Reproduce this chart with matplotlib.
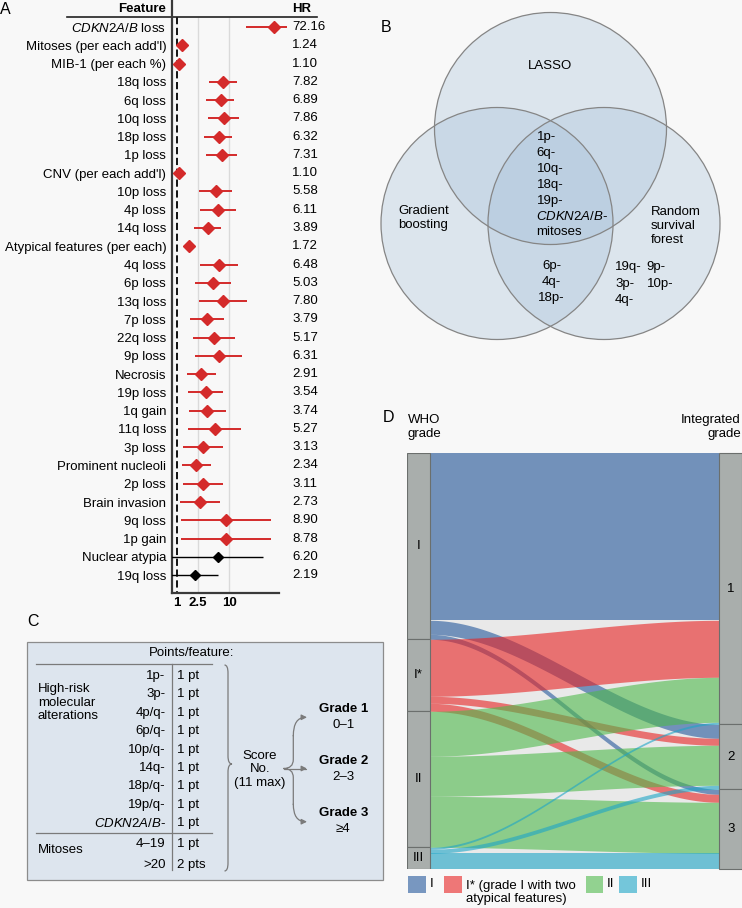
import numpy as np
import matplotlib
matplotlib.use('Agg')
import matplotlib.pyplot as plt
from matplotlib.patches import Circle, Rectangle, FancyArrowPatch, PathPatch
from matplotlib.path import Path
from matplotlib.ticker import NullLocator

plt.rcParams['font.family'] = ['Liberation Sans', 'DejaVu Sans']
plt.rcParams['font.size'] = 9.5
plt.rcParams['mathtext.fontset'] = 'custom'
plt.rcParams['mathtext.rm'] = 'Liberation Sans'
plt.rcParams['mathtext.it'] = 'Liberation Sans:italic'
plt.rcParams['mathtext.bf'] = 'Liberation Sans:bold'

# ---- data: panel A (hazard ratios) ----
features = ["$\\it{CDKN2A/B}$ loss", "Mitoses (per each add'l)", "MIB-1 (per each %)",
            "18q loss", "6q loss", "10q loss", "18p loss", "1p loss", "CNV (per each add'l)",
            "10p loss", "4p loss", "14q loss", "Atypical features (per each)", "4q loss",
            "6p loss", "13q loss", "7p loss", "22q loss", "9p loss", "Necrosis", "19p loss",
            "1q gain", "11q loss", "3p loss", "Prominent nucleoli", "2p loss",
            "Brain invasion", "9q loss", "1p gain", "Nuclear atypia", "19q loss"]
hr = [72.16, 1.24, 1.10, 7.82, 6.89, 7.86, 6.32, 7.31, 1.10, 5.58, 6.11, 3.89, 1.72,
      6.48, 5.03, 7.80, 3.79, 5.17, 6.31, 2.91, 3.54, 3.74, 5.27, 3.13, 2.34, 3.11,
      2.73, 8.90, 8.78, 6.20, 2.19]
ci_lo = [20.9, 1.18, 1.06, 4.19, 3.66, 3.95, 3.31, 3.66, 1.06, 2.61, 2.73, 2.15, 1.55,
         2.77, 2.25, 2.65, 1.80, 2.00, 2.19, 1.58, 1.65, 1.68, 1.60, 1.32, 1.23, 1.29,
         1.12, 1.19, 1.19, 0.70, 0.70]
ci_hi = [129.0, 1.31, 1.14, 14.4, 12.5, 15.4, 11.6, 14.0, 1.15, 11.6, 13.4, 7.12, 1.90,
         14.7, 10.9, 21.9, 8.0, 13.2, 18.0, 5.54, 7.78, 8.6, 17.3, 7.55, 4.57, 7.55,
         6.62, 63.0, 63.0, 44.5, 6.24]
significant = [True] * 29 + [False, False]
hr_ticks = [1, 2.5, 10]

# ---- data: panel B (Venn) ----
venn_center = ["1p-", "6q-", "10q-", "18q-", "19p-", "$\\it{CDKN2A/B}$-", "mitoses"]
venn_gb_rsf = ["6p-", "4q-", "18p-"]
venn_rsf_a = ["19q-", "3p-", "4q-"]
venn_rsf_b = ["9p-", "10p-"]

# ---- data: panel C (scoring table) ----
mol_feats = ["1p-", "3p-", "4p/q-", "6p/q-", "10p/q-", "14q-", "18p/q-", "19p/q-",
             "$\\it{CDKN2A/B}$-"]
mol_pts = ["1 pt"] * 9
mit_feats = ["4\u201319", ">20"]
mit_pts = ["1 pt", "2 pts"]
grades = ["Grade 1", "Grade 2", "Grade 3"]
grade_ranges = ["0\u20131", "2\u20133", "\u22654"]

# ---- data: panel D (alluvial WHO -> integrated grade) ----
who_grades = ["I", "I*", "II", "III"]
int_grades = ["1", "2", "3"]
flows_I = [167, 14, 5]
flows_Istar = [57, 7, 8]
flows_II = [45, 40, 51]
flows_III = [2, 4, 16]
flow_colors = ['#23579b', '#e82222', '#4eb94b', '#1da5c7']

BG = '#f8f8f8'
RED = '#d42a2a'
W, H = 742, 908
fig = plt.figure(figsize=(W / 100, H / 100), dpi=100, facecolor=BG)


def px_axes(x0, y0, x1, y1):
    return fig.add_axes([x0 / W, 1 - y1 / H, (x1 - x0) / W, (y1 - y0) / H])


ov = px_axes(0, 0, W, H)
ov.set_xlim(0, W)
ov.set_ylim(H, 0)
ov.axis('off')

# panel letters
for lab, (lx, ly) in zip("ABCD", [(5, 10), (386, 27), (33, 622), (388, 417)]):
    ov.text(lx, ly, lab, fontsize=11.5, ha='center', va='center')

# ================= A: forest plot =================
axA = px_axes(171.7, 0, 300, 593)
axA.set_facecolor('none')
axA.set_xscale('log')
axA.set_xlim(0.79, 232)
axA.set_ylim(30.98, -1.478)
for s in ['top', 'right']:
    axA.spines[s].set_visible(False)
axA.spines['left'].set_color('#3a3a3a')
axA.spines['left'].set_linewidth(1.6)
axA.spines['bottom'].set_color('#3a3a3a')
axA.spines['bottom'].set_linewidth(1.6)
axA.spines['bottom'].set_bounds(0.79, 91.6)
axA.xaxis.set_minor_locator(NullLocator())
axA.set_xticks(hr_ticks)
axA.set_xticklabels(['1', '2.5', '10'], fontweight='bold')
rows = np.arange(len(features))
axA.set_yticks(rows)
axA.set_yticklabels(features)
axA.tick_params(length=0, axis='y', pad=4)
axA.tick_params(length=0, axis='x', pad=3)

axA.vlines([2.5, 10], -0.548, 30.98, colors='#dadada', lw=1, zorder=1)
axA.vlines(1, -0.548, 30.98, colors='k', linestyles=(0, (4, 2)), lw=1.3, zorder=2)
for i in rows:
    c = RED if significant[i] else 'k'
    axA.plot([ci_lo[i], ci_hi[i]], [i, i], color=c, lw=1.4 if significant[i] else 1.0,
             clip_on=(i >= 29), zorder=3, solid_capstyle='butt')
    axA.plot(hr[i], i, marker='D', ms=6.6 if significant[i] else 4.6, color=c,
             ls='none', zorder=4, clip_on=False)
    axA.text(0.9376, i, f'{hr[i]:.2f}', transform=axA.get_yaxis_transform(),
             ha='left', va='center')
tr = axA.get_yaxis_transform()
axA.text(-0.0444, -0.985, 'Feature', transform=tr, ha='right', va='center', fontweight='bold')
axA.text(0.9376, -0.985, 'HR', transform=tr, ha='left', va='center', fontweight='bold')
axA.plot([-0.816, 1.1325], [-0.548, -0.548], transform=tr, clip_on=False,
         color='#222222', lw=1.2)

# ================= B: Venn =================
venn_fill = '#a3bfd8'
for cx, cy in [(550.5, 128.5), (497, 223.5), (604, 223.5)]:
    ov.add_patch(Circle((cx, cy), 116, facecolor=venn_fill, alpha=0.32, edgecolor='none'))
for cx, cy in [(550.5, 128.5), (497, 223.5), (604, 223.5)]:
    ov.add_patch(Circle((cx, cy), 116, facecolor='none', edgecolor='#858585', lw=0.9))
ov.text(550, 66, 'LASSO', ha='center', va='center')
ov.text(398, 218, 'Gradient\nboosting', ha='left', va='center', linespacing=1.2)
ov.text(651, 226, 'Random\nsurvival\nforest', ha='left', va='center', linespacing=1.2)
for k, t in enumerate(venn_center):
    ov.text(536.5, 137 + 15.9 * k, t, ha='left', va='center')
for k, t in enumerate(venn_gb_rsf):
    ov.text(551.5, 266.5 + 15.5 * k, t, ha='center', va='center')
for k, t in enumerate(venn_rsf_a):
    ov.text(615, 267 + 16.5 * k, t, ha='left', va='center')
for k, t in enumerate(venn_rsf_b):
    ov.text(646.5, 267 + 16.5 * k, t, ha='left', va='center')

# ================= C: scoring scheme =================
ov.add_patch(Rectangle((26.7, 641.7), 356, 238, facecolor='#dde5ee', edgecolor='#8c8c8c', lw=0.9))
ov.text(192, 653.5, 'Points/feature:', ha='center', va='center')
gray = '#7a7a7a'
ov.plot([36, 211.7], [664.3, 664.3], color=gray, lw=0.9)
ov.plot([36, 211.7], [832.7, 832.7], color=gray, lw=0.9)
ov.plot([171.7, 171.7], [664.3, 870], color=gray, lw=0.9)
for k, (f, p) in enumerate(zip(mol_feats, mol_pts)):
    ov.text(165.7, 676 + 18.4 * k, f, ha='right', va='center')
    ov.text(176.7, 676 + 18.4 * k, p, ha='left', va='center')
for k, (f, p) in enumerate(zip(mit_feats, mit_pts)):
    ov.text(165.7, 844.3 + 20.7 * k, f, ha='right', va='center')
    ov.text(176.7, 844.3 + 20.7 * k, p, ha='left', va='center')
ov.text(38, 702.5, 'High-risk\nmolecular\nalterations', ha='left', va='center', linespacing=1.2)
ov.text(38, 850, 'Mitoses', ha='left', va='center')

# big right brace
bx, by0, by1, bym = 224.5, 665, 871, 764
verts = [(bx, by0), (bx + 3.5, by0), (bx + 3.5, by0 + 8),
         (bx + 3.5, bym - 8), (bx + 3.5, bym), (bx + 7.5, bym),
         (bx + 3.5, bym), (bx + 3.5, bym + 8),
         (bx + 3.5, by1 - 8), (bx + 3.5, by1), (bx, by1)]
codes = [Path.MOVETO, Path.CURVE3, Path.CURVE3, Path.LINETO, Path.CURVE3, Path.CURVE3,
         Path.CURVE3, Path.CURVE3, Path.LINETO, Path.CURVE3, Path.CURVE3]
ov.add_patch(PathPatch(Path(verts, codes), facecolor='none', edgecolor=gray, lw=0.9))
ov.text(260, 769.5, 'Score\nNo.\n(11 max)', ha='center', va='center', linespacing=1.2)

# small brace with arrows
sx, tip = 293.3, 307
mid = 768.5
verts2 = [(sx, 735), (sx, mid - 9), (sx, mid), (283.5, mid), (sx, mid), (sx, mid + 9), (sx, 805)]
codes2 = [Path.MOVETO, Path.LINETO, Path.CURVE3, Path.CURVE3, Path.CURVE3, Path.CURVE3, Path.LINETO]
ov.add_patch(PathPatch(Path(verts2, codes2), facecolor='none', edgecolor=gray, lw=0.9))
for p in [Path([(sx, 736), (sx, 717.3), (tip, 717.3)], [Path.MOVETO, Path.CURVE3, Path.CURVE3]),
          Path([(sx, 804), (sx, 821.7), (tip, 821.7)], [Path.MOVETO, Path.CURVE3, Path.CURVE3]),
          Path([(283.5, mid), (tip, mid)], [Path.MOVETO, Path.LINETO])]:
    ov.add_patch(FancyArrowPatch(path=p, arrowstyle='-|>', mutation_scale=8,
                                 color=gray, lw=0.9, shrinkA=0, shrinkB=0))
for k, (g, r) in enumerate(zip(grades, grade_ranges)):
    gy = 709 + 51.8 * k
    ov.text(343.3, gy, g, ha='center', va='center', fontweight='bold')
    ov.text(343.3, gy + 16, r, ha='center', va='center')

# ================= D: alluvial =================
flows = [flows_I, flows_Istar, flows_II, flows_III]
total = sum(sum(f) for f in flows)
axD = px_axes(407.3, 453.3, 742, 869.3)
axD.set_xlim(0, 1)
axD.set_ylim(total, 0)
axD.axis('off')
bw = 22.7 / 334.7
axD.add_patch(Rectangle((bw, 0), 1 - 2 * bw, total, facecolor='#e9e9e9', edgecolor='none', zorder=0))

left_tot = [sum(f) for f in flows]
right_tot = [sum(f[j] for f in flows) for j in range(3)]
# stacking positions
left_pos = {}
y = 0
for i, f in enumerate(flows):
    for j, v in enumerate(f):
        left_pos[(i, j)] = (y, y + v)
        y += v
right_pos = {}
y = 0
for j in range(3):
    for i, f in enumerate(flows):
        right_pos[(i, j)] = (y, y + f[j])
        y += f[j]

t = np.linspace(0, 1, 200)
s = 3 * t ** 2 - 2 * t ** 3
xs = bw + (1 - 2 * bw) * t
for i, f in enumerate(flows):
    for j in range(3):
        l0, l1 = left_pos[(i, j)]
        r0, r1 = right_pos[(i, j)]
        top = l0 + (r0 - l0) * s
        bot = l1 + (r1 - l1) * s
        axD.fill_between(xs, top, bot, color=flow_colors[i], alpha=0.6, lw=0, zorder=2)

y = 0
for lab, v in zip(who_grades, left_tot):
    axD.add_patch(Rectangle((0, y), bw, v, facecolor='#a9aeac', edgecolor='#6b6f6d', lw=0.8, zorder=3))
    axD.text(bw / 2, y + v / 2, lab, ha='center', va='center', zorder=4)
    y += v
y = 0
for lab, v in zip(int_grades, right_tot):
    axD.add_patch(Rectangle((1 - bw, y), bw, v, facecolor='#a9aeac', edgecolor='#6b6f6d', lw=0.8,
                            zorder=3, clip_on=False))
    axD.text(1 - bw / 2, y + v / 2, lab, ha='center', va='center', zorder=4)
    y += v

ov.text(408, 427, 'WHO\ngrade', ha='left', va='center', linespacing=1.2)
ov.text(741, 427, 'Integrated\ngrade', ha='right', va='center', linespacing=1.2)

# legend
leg_items = [(408, 'I'), (444, 'I* (grade I with two\natypical features)'), (585.5, 'II'), (619.3, 'III')]
for (lx, txt), c in zip(leg_items, flow_colors):
    ov.add_patch(Rectangle((lx, 875.5), 17.5, 17.5, facecolor=c, alpha=0.6, edgecolor='none'))
    ov.text(lx + 21.5, 884, txt, ha='left', va='top' if '\n' in txt else 'center',
            linespacing=1.2)
# fix two-line legend label vertical alignment
ov.texts[-3].set_va('center')
ov.texts[-3].set_y(892.5)

fig.savefig('out.png', dpi=100, facecolor=BG)
